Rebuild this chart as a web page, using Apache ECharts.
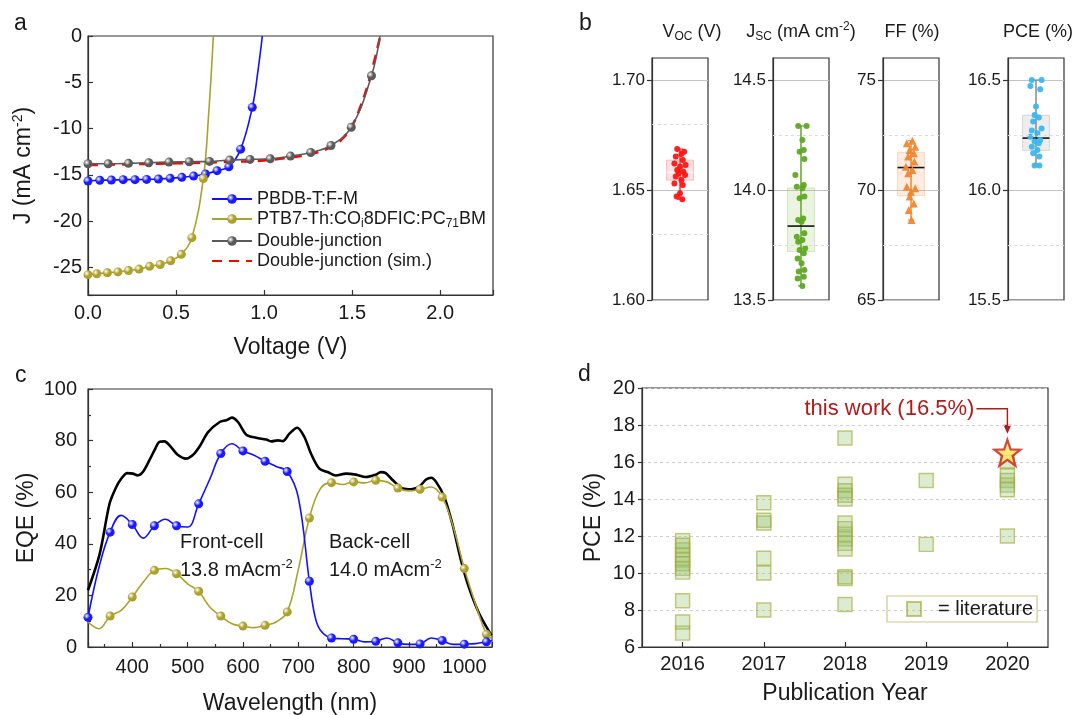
<!DOCTYPE html>
<html>
<head>
<meta charset="utf-8">
<script src="https://cdn.jsdelivr.net/npm/echarts@6/dist/echarts.min.js"></script>
<style>
html, body { margin: 0; padding: 0; background: #fff; }
#main { width: 1077px; height: 715px; }
</style>
</head>
<body>
<div id="main"></div>
<script>
// ---------------- panel a : J-V curves ----------------
// marker points
var blueV = [0, 0.067, 0.133, 0.2, 0.267, 0.333, 0.4, 0.467, 0.533, 0.6, 0.667, 0.733, 0.8, 0.867, 0.933];
var blueJ = [-15.67, -15.6, -15.57, -15.53, -15.53, -15.5, -15.46, -15.39, -15.28, -15.14, -14.92, -14.56, -14.13, -12.23, -7.71];
// extra line points (no marker)
var blueLineV = [0.965, 0.99];
var blueLineJ = [-3.8, 0];

var oliveV = [0, 0.05, 0.11, 0.17, 0.23, 0.29, 0.35, 0.41, 0.47, 0.53, 0.59, 0.655];
var oliveJ = [-25.8, -25.7, -25.6, -25.5, -25.35, -25.2, -24.9, -24.7, -24.3, -23.6, -21.8, -15.4];
var oliveLineV = [0.685, 0.712];
var oliveLineJ = [-8.5, 0];

var djV = [0, 0.115, 0.23, 0.345, 0.46, 0.575, 0.69, 0.805, 0.92, 1.035, 1.15, 1.265, 1.38, 1.495, 1.61];
var djJ = [-13.81, -13.81, -13.77, -13.7, -13.63, -13.59, -13.56, -13.41, -13.34, -13.27, -12.98, -12.59, -11.84, -9.86, -4.3];
var djLineV = [1.658];
var djLineJ = [0];

var simV = [0, 0.2, 0.4, 0.6, 0.8, 1.0, 1.2, 1.3, 1.4, 1.45, 1.5, 1.55, 1.6, 1.66];
var simJ = [-13.95, -13.88, -13.8, -13.72, -13.6, -13.45, -13.0, -12.6, -11.8, -11.0, -9.7, -7.5, -4.6, 0];

// ---------------- panel b : statistics ----------------
var vocVals = [1.6686, 1.6674, 1.6664, 1.6652, 1.6636, 1.6621, 1.6614, 1.6606, 1.6591, 1.6583, 1.6576, 1.6568, 1.6561, 1.6545, 1.653, 1.6523, 1.6485, 1.647, 1.6458];
var vocDx = [-0.1, 0.15, 0.05, -0.15, 0.1, -0.2, 0.2, 0, -0.1, 0.12, -0.05, 0.18, -0.15, 0.05, -0.2, 0.1, 0, -0.12, 0.08];
var vocBox = [1.6458, 1.6545, 1.658, 1.6636, 1.6686];

var jscVals = [14.291, 14.291, 14.227, 14.182, 14.174, 14.141, 14.068, 14.023, 14.015, 14.008, 13.97, 13.962, 13.871, 13.864, 13.856, 13.803, 13.788, 13.773, 13.765, 13.735, 13.727, 13.712, 13.689, 13.667, 13.636, 13.629, 13.606, 13.598, 13.564];
var jscDx = [-0.1, 0.2, 0.05, 0.1, -0.05, 0.12, -0.2, 0.1, -0.15, 0.05, 0.12, -0.05, 0.08, -0.1, 0.02, 0.12, -0.15, 0.05, -0.1, 0.15, -0.05, 0.1, -0.12, 0.02, 0.12, -0.08, 0.1, -0.12, 0.05];
var jscBox = [13.564, 13.72, 13.836, 14.009, 14.291];

var ffVals = [72.24, 72.12, 71.97, 71.82, 71.67, 71.52, 71.29, 71.06, 70.91, 70.76, 70.15, 70.08, 69.92, 69.7, 69.39, 69.09, 68.64];
var ffDx = [0.05, -0.15, 0.15, -0.05, 0.1, -0.1, 0.12, -0.18, 0.05, -0.1, -0.15, 0.15, 0, -0.05, 0.1, -0.08, 0.02];
var ffBox = [68.64, 69.74, 71.02, 71.71, 72.24];

var pceVals = [16.5, 16.5, 16.473, 16.458, 16.379, 16.341, 16.33, 16.311, 16.28, 16.27, 16.258, 16.242, 16.227, 16.22, 16.212, 16.197, 16.182, 16.167, 16.152, 16.111, 16.111];
var pceDx = [-0.15, 0.2, -0.2, 0.15, 0, -0.05, 0.1, -0.1, 0.2, -0.15, 0.05, -0.2, 0.15, -0.05, 0.1, -0.15, 0.05, -0.1, 0.12, -0.05, 0.12];
var pceBox = [16.111, 16.18, 16.236, 16.34, 16.5];

// ---------------- panel c : EQE ----------------
var frontWl = [320, 360, 400, 440, 480, 520, 560, 600, 640, 680, 720, 760, 800, 840, 880, 920, 960, 1000, 1040];
var frontEqe = [11.5, 44.5, 47.5, 47, 47, 55.5, 75, 76, 72, 68, 25.5, 3.5, 3, 2.2, 1.6, 1.2, 2.5, 1.1, 2];
var frontLineWl = [340, 380, 420, 460, 500, 540, 580, 620, 660, 700, 730, 740, 780, 820, 860, 900, 940, 980, 1020, 1050];
var frontLineEqe = [31, 51, 42.2, 49.5, 46.5, 65, 78.8, 74.3, 70, 58, 12, 6.5, 3.2, 2, 3.5, 1, 3.5, 1, 1.3, 2.5];

var backWl = [360, 400, 440, 480, 520, 560, 600, 640, 680, 720, 760, 800, 840, 880, 920, 960, 1000, 1040];
var backEqe = [12, 19.4, 29.7, 28.4, 21.6, 12, 8.1, 8.4, 13.6, 50, 63.7, 64, 64.6, 61.6, 61.1, 58.1, 30.4, 4.9];
var backLineWl = [320, 340, 380, 420, 460, 500, 540, 580, 620, 660, 700, 740, 780, 820, 860, 900, 940, 980, 1020, 1050];
var backLineEqe = [9.7, 7.1, 14.2, 25.2, 30.4, 24.5, 15.5, 9, 7.5, 9.7, 30, 61.4, 63, 63.6, 64, 60.5, 62, 46.5, 16.8, 3.2];

var sumWl = [320, 341, 359, 371, 380, 391, 401, 410, 419, 431, 440, 449, 458, 470, 482, 497, 509, 521, 537, 558, 570, 580, 591, 606, 624, 642, 651, 663, 672, 684, 698, 711, 723, 738, 753, 768, 786, 804, 822, 840, 849, 858, 871, 889, 904, 919, 931, 940, 949, 964, 979, 994, 1009, 1027, 1049];
var sumEqe = [22, 36, 55.6, 62, 65.2, 67.4, 67.2, 66.5, 67.8, 72.4, 76.2, 79.5, 79.7, 77.5, 74.5, 73, 74.3, 77.5, 83.3, 87.2, 87.9, 88.9, 87.2, 82.3, 81.1, 80.4, 79.7, 80.1, 79.8, 82.7, 85, 81.4, 74.9, 69.1, 67.8, 66.5, 67.2, 66.8, 65.9, 66.8, 67.8, 67.4, 64.6, 61.4, 61.1, 62.3, 64.9, 65.6, 64, 58.1, 47.2, 33.6, 22.6, 12.9, 4.5];
var wlMinorTicks = [350, 450, 550, 650, 750, 850, 950];

// ---------------- panel d : literature ----------------
var years = ['2016', '2017', '2018', '2019', '2020'];
var pce2016 = [11.75, 11.5, 11.25, 10.95, 10.7, 10.5, 10.25, 10.05, 8.5, 7.35, 6.75];
var pce2017 = [13.8, 12.85, 12.7, 10.8, 10.0, 8.0];
var pce2018 = [17.3, 14.8, 14.45, 14.2, 14.0, 12.7, 12.4, 12.1, 11.85, 11.6, 11.3, 9.8, 9.7, 8.3];
var pce2019 = [15.0, 11.55];
var pce2020 = [16.0, 15.3, 15.0, 14.75, 14.5, 12.0];
var thisWork = 16.5;

var FONT = "'Liberation Sans', Arial, sans-serif";
var INK = '#1a1a1a';

function ball(c) {
    return {
        type: 'radial', x: 0.35, y: 0.35, r: 0.7,
        colorStops: [{ offset: 0, color: '#ffffff' }, { offset: 0.5, color: c }, { offset: 1, color: c }]
    };
}

// markers plus extra line-only points, sorted along x
function curve(mx, my, lx, ly) {
    var pts = [];
    mx.forEach(function (x, i) { pts.push({ value: [x, my[i]] }); });
    lx.forEach(function (x, i) { pts.push({ value: [x, ly[i]], symbol: 'none' }); });
    pts.sort(function (a, b) { return a.value[0] - b.value[0]; });
    return pts;
}

function onStep(step, digits) {
    return function (v) {
        var r = v / step;
        if (Math.abs(r - Math.round(r)) > 1e-6) return '';
        return digits == null ? String(v) : v.toFixed(digits);
    };
}

function grid(l, t, w, h) {
    return { left: l, top: t, width: w, height: h, show: true, borderColor: '#333', borderWidth: 1.2, outerBoundsMode: 'none' };
}

var lineAxis = { show: true, onZero: false, lineStyle: { color: '#333', width: 1.2 } };
var tickIn = { show: true, inside: true, length: 5, lineStyle: { color: '#333', width: 1.2 } };
var label20 = { color: INK, fontSize: 20, fontFamily: FONT };
var name23 = { color: INK, fontSize: 23, fontFamily: FONT, lineHeight: 26, rich: { p: { fontSize: 14, fontFamily: FONT, color: INK, lineHeight: 12, verticalAlign: 'top' } } };

// panel b helpers
var bLefts = [652, 773, 883, 1008];
var bMin = [1.60, 13.5, 65, 15.5];
var bMax = [1.71, 14.6, 76, 16.6];
var bStep = [0.05, 0.5, 5, 0.5];
var bDigits = [2, 1, 0, 1];
var bVals = [vocVals, jscVals, ffVals, pceVals];
var bDx = [vocDx, jscDx, ffDx, pceDx];
var bBox = [vocBox, jscBox, ffBox, pceBox];
var bPoint = ['#ff1414', '#5ea823', '#f08630', '#3cb6f0'];
var bSymbol = ['circle', 'circle', 'triangle', 'circle'];
var bFill = ['rgba(255,90,90,0.18)', 'rgba(130,185,70,0.16)', 'rgba(245,150,80,0.18)', 'rgba(140,140,140,0.16)'];
var bEdge = ['rgba(255,90,90,0.35)', 'rgba(130,185,70,0.3)', 'rgba(245,150,80,0.3)', 'rgba(140,140,140,0.3)'];
var bWhisker = ['#ff3030', '#5ea823', '#f08630', '#8a8a8a'];
var bMedian = ['rgba(255,255,255,0.8)', '#111', '#111', '#111'];

function boxRenderer(k) {
    return function (params, api) {
        var lo = api.value(0), q1 = api.value(1), md = api.value(2), q3 = api.value(3), hi = api.value(4);
        var tl = api.coord([-0.48, q3]);
        var br = api.coord([0.48, q1]);
        var m1 = api.coord([-0.48, md]);
        var m2 = api.coord([0.48, md]);
        var w1 = api.coord([0, hi]);
        var w2 = api.coord([0, lo]);
        var cw = 3;
        return {
            type: 'group',
            children: [
                { type: 'rect', shape: { x: tl[0], y: tl[1], width: br[0] - tl[0], height: br[1] - tl[1] }, style: { fill: bFill[k], stroke: bEdge[k], lineWidth: 1 } },
                { type: 'line', shape: { x1: w1[0], y1: w1[1], x2: w2[0], y2: w2[1] }, style: { stroke: bWhisker[k], lineWidth: 1.5 } },
                { type: 'line', shape: { x1: w1[0] - cw, y1: w1[1], x2: w1[0] + cw, y2: w1[1] }, style: { stroke: bWhisker[k], lineWidth: 1.2 } },
                { type: 'line', shape: { x1: w2[0] - cw, y1: w2[1], x2: w2[0] + cw, y2: w2[1] }, style: { stroke: bWhisker[k], lineWidth: 1.2 } },
                { type: 'line', shape: { x1: m1[0], y1: m1[1], x2: m2[0], y2: m2[1] }, style: { stroke: bMedian[k], lineWidth: 1.6 } }
            ]
        };
    };
}

var grids = [grid(88, 36, 405, 259)];
var xAxes = [{
    gridIndex: 0, type: 'value', min: 0, max: 2.3, interval: 0.5,
    axisLine: lineAxis, axisTick: tickIn, splitLine: { show: false },
    axisLabel: Object.assign({ margin: 8, formatter: onStep(0.5, 1) }, label20),
    name: 'Voltage (V)', nameLocation: 'middle', nameGap: 40, nameTextStyle: name23
}];
var yAxes = [{
    gridIndex: 0, type: 'value', min: -28, max: 0,
    axisLine: lineAxis, axisTick: tickIn, splitLine: { show: false },
    axisLabel: Object.assign({ margin: 6, formatter: onStep(5) }, label20),
    name: 'J (mA cm{p|-2})', nameLocation: 'middle', nameGap: 51, nameTextStyle: name23
}];
var series = [
    {
        name: 'PBDB-T:F-M', type: 'line', xAxisIndex: 0, yAxisIndex: 0, smooth: 0.4, showAllSymbol: true,
        symbol: 'circle', symbolSize: 9, data: curve(blueV, blueJ, blueLineV, blueLineJ),
        lineStyle: { color: '#1010ff', width: 1.6 }, itemStyle: { color: ball('#1a1aff') }, z: 3
    },
    {
        name: 'PTB7-Th:COi8DFIC:PC71BM', type: 'line', xAxisIndex: 0, yAxisIndex: 0, smooth: 0.4, showAllSymbol: true,
        symbol: 'circle', symbolSize: 9, data: curve(oliveV, oliveJ, oliveLineV, oliveLineJ),
        lineStyle: { color: '#aca12a', width: 1.6 }, itemStyle: { color: ball('#aca12a') }, z: 3
    },
    {
        name: 'Double-junction', type: 'line', xAxisIndex: 0, yAxisIndex: 0, smooth: 0.4, showAllSymbol: true,
        symbol: 'circle', symbolSize: 9, data: curve(djV, djJ, djLineV, djLineJ),
        lineStyle: { color: '#5a5a5a', width: 1.6 }, itemStyle: { color: ball('#5a5a5a') }, z: 3
    },
    {
        name: 'Double-junction (sim.)', type: 'line', xAxisIndex: 0, yAxisIndex: 0, smooth: 0.4, symbol: 'none',
        data: simV.map(function (v, i) { return [v, simJ[i]]; }),
        lineStyle: { color: '#ff0000', width: 2.6, type: [10, 7] }, itemStyle: { color: '#ff0000' }, z: 2
    }
];

// panel b grids (grid 1..4, axes 1..4)
for (var k = 0; k < 4; k++) {
    var gi = k + 1;
    var majors = [bMin[k], bMin[k] + bStep[k], bMin[k] + 2 * bStep[k]];
    grids.push(grid(bLefts[k], 58, 56, 242));
    xAxes.push({ gridIndex: gi, type: 'value', min: -1, max: 1, show: false });
    yAxes.push({
        gridIndex: gi, type: 'value', min: bMin[k], max: bMax[k], interval: bStep[k],
        axisLine: lineAxis,
        axisTick: { show: true, inside: false, length: 5, customValues: majors, lineStyle: { color: '#333', width: 1.2 } },
        splitLine: { show: true, lineStyle: { color: '#c4c4c4', width: 1.2 } },
        axisLabel: { margin: 7, color: INK, fontSize: 17, fontFamily: FONT, formatter: onStep(bStep[k], bDigits[k]) }
    });
    series.push({
        type: 'custom', xAxisIndex: gi, yAxisIndex: gi, renderItem: boxRenderer(k),
        data: [bBox[k]], z: 2, silent: true,
        markLine: {
            silent: true, symbol: 'none', label: { show: false },
            lineStyle: { color: '#dcdcdc', type: [3, 3], width: 1 },
            data: [{ yAxis: bMin[k] + bStep[k] / 2 }, { yAxis: bMin[k] + bStep[k] * 1.5 }]
        }
    });
    series.push({
        type: 'scatter', xAxisIndex: gi, yAxisIndex: gi, symbol: bSymbol[k], symbolSize: bSymbol[k] === 'triangle' ? 8 : 6,
        data: bVals[k].map(function (v, i) { return [bDx[k][i], v]; }),
        itemStyle: { color: bPoint[k], opacity: 0.95 }, z: 3
    });
}

// panel c (grid 5, x axes 5 and 6, y axis 5)
grids.push(grid(88, 389, 404, 258));
xAxes.push({
    gridIndex: 5, type: 'value', min: 320, max: 1050, splitNumber: 7,
    axisLine: lineAxis, axisTick: tickIn, splitLine: { show: false },
    axisLabel: Object.assign({ margin: 10, formatter: onStep(100) }, label20),
    name: 'Wavelength (nm)', nameLocation: 'middle', nameGap: 44, nameTextStyle: name23
});
xAxes.push({
    gridIndex: 5, type: 'value', min: 320, max: 1050, position: 'bottom',
    axisLine: { show: false, onZero: false }, splitLine: { show: false }, axisLabel: { show: false },
    axisTick: { show: true, inside: true, length: 3, customValues: wlMinorTicks, lineStyle: { color: '#333', width: 1.2 } }
});
yAxes.push({
    gridIndex: 5, type: 'value', min: 0, max: 100, interval: 20,
    axisLine: lineAxis, axisTick: tickIn, splitLine: { show: false },
    minorTick: { show: true, splitNumber: 2, length: 3, lineStyle: { color: '#333', width: 1.2 } },
    axisLabel: Object.assign({ margin: 11 }, label20),
    name: 'EQE (%)', nameLocation: 'middle', nameGap: 46, nameTextStyle: name23
});
series.push({
    name: 'EQE sum', type: 'line', xAxisIndex: 5, yAxisIndex: 5, smooth: 0.3, symbol: 'none',
    data: sumWl.map(function (w, i) { return [w, sumEqe[i]]; }),
    lineStyle: { color: '#000', width: 2.6 }, z: 2
});
series.push({
    name: 'EQE back', type: 'line', xAxisIndex: 5, yAxisIndex: 5, smooth: 0.4, showAllSymbol: true,
    symbol: 'circle', symbolSize: 9, data: curve(backWl, backEqe, backLineWl, backLineEqe),
    lineStyle: { color: '#aca12a', width: 1.6 }, itemStyle: { color: ball('#aca12a') }, z: 3
});
series.push({
    name: 'EQE front', type: 'line', xAxisIndex: 5, yAxisIndex: 5, smooth: 0.4, showAllSymbol: true,
    symbol: 'circle', symbolSize: 9, data: curve(frontWl, frontEqe, frontLineWl, frontLineEqe),
    lineStyle: { color: '#1010ff', width: 1.6 }, itemStyle: { color: ball('#1a1aff') }, z: 4
});

// panel d (grid 6, x axis 7, y axis 6)
grids.push(grid(642, 388, 406, 259));
xAxes.push({
    gridIndex: 6, type: 'category', data: years, boundaryGap: true,
    axisLine: lineAxis, axisTick: Object.assign({ alignWithLabel: true }, tickIn), splitLine: { show: false },
    axisLabel: Object.assign({ margin: 7 }, label20),
    name: 'Publication Year', nameLocation: 'middle', nameGap: 34, nameTextStyle: name23
});
yAxes.push({
    gridIndex: 6, type: 'value', min: 6, max: 20, interval: 2,
    axisLine: lineAxis,
    axisTick: { show: true, inside: false, length: 4, lineStyle: { color: '#333', width: 1.2 } },
    splitLine: { show: true, lineStyle: { color: '#cfcfcf', type: [3, 3], width: 1 } },
    axisLabel: Object.assign({ margin: 7 }, label20),
    name: 'PCE (%)', nameLocation: 'middle', nameGap: 35, nameTextStyle: name23
});
var litData = [];
[pce2016, pce2017, pce2018, pce2019, pce2020].forEach(function (arr, i) {
    arr.forEach(function (v) { litData.push([years[i], v]); });
});
series.push({
    name: '= literature', type: 'scatter', xAxisIndex: 7, yAxisIndex: 6, symbol: 'rect', symbolSize: 14,
    data: litData,
    itemStyle: { color: 'rgba(150,200,120,0.42)', borderColor: 'rgba(165,170,55,0.8)', borderWidth: 1.4 }, z: 2
});
series.push({
    name: 'this work', type: 'scatter', xAxisIndex: 7, yAxisIndex: 6,
    symbol: 'path://M0,-10 L2.35,-3.24 L9.51,-3.09 L3.8,1.24 L5.88,8.09 L0,4 L-5.88,8.09 L-3.8,1.24 L-9.51,-3.09 L-2.35,-3.24 Z',
    symbolSize: 26, data: [[years[4], thisWork]],
    itemStyle: { color: '#ffe45c', borderColor: '#c81e1e', borderWidth: 2.2 }, z: 5
});

function legendFormat(name) {
    if (name === 'PTB7-Th:COi8DFIC:PC71BM') return '{n|PTB7-Th:CO}{s|i}{n|8DFIC:PC}{s|71}{n|BM}';
    return '{n|' + name + '}';
}

var richTitle = {
    n: { fontSize: 18, fontFamily: FONT, fill: INK, lineHeight: 22 },
    s: { fontSize: 12, fontFamily: FONT, fill: INK, lineHeight: 10, verticalAlign: 'bottom' },
    p: { fontSize: 12, fontFamily: FONT, fill: INK, lineHeight: 10, verticalAlign: 'top' }
};
var richNote = {
    n: { fontSize: 20, fontFamily: FONT, fill: INK, lineHeight: 24 },
    p: { fontSize: 13, fontFamily: FONT, fill: INK, lineHeight: 10, verticalAlign: 'top' }
};

var graphics = [
    { id: 'la', type: 'text', x: 14, y: 12, style: { text: 'a', fontSize: 23, fontFamily: FONT, fill: INK } },
    { id: 'lb', type: 'text', x: 579, y: 12, style: { text: 'b', fontSize: 23, fontFamily: FONT, fill: INK } },
    { id: 'lc', type: 'text', x: 15, y: 364, style: { text: 'c', fontSize: 23, fontFamily: FONT, fill: INK } },
    { id: 'ld', type: 'text', x: 578, y: 363, style: { text: 'd', fontSize: 23, fontFamily: FONT, fill: INK } },
    { id: 'tb1', type: 'text', x: 692, y: 32, style: { text: '{n|V}{s|OC}{n| (V)}', align: 'center', verticalAlign: 'middle', rich: richTitle } },
    { id: 'tb2', type: 'text', x: 801, y: 32, style: { text: '{n|J}{s|SC}{n| (mA cm}{p|-2}{n|)}', align: 'center', verticalAlign: 'middle', rich: richTitle } },
    { id: 'tb3', type: 'text', x: 912, y: 32, style: { text: 'FF (%)', align: 'center', verticalAlign: 'middle', fontSize: 18, fontFamily: FONT, fill: INK } },
    { id: 'tb4', type: 'text', x: 1038, y: 32, style: { text: 'PCE (%)', align: 'center', verticalAlign: 'middle', fontSize: 18, fontFamily: FONT, fill: INK } },
    { id: 'fc1', type: 'text', x: 180, y: 542, style: { text: 'Front-cell', verticalAlign: 'middle', fontSize: 20, fontFamily: FONT, fill: INK } },
    { id: 'fc2', type: 'text', x: 180, y: 570, style: { text: '{n|13.8 mAcm}{p|-2}', verticalAlign: 'middle', rich: richNote } },
    { id: 'bc1', type: 'text', x: 329, y: 542, style: { text: 'Back-cell', verticalAlign: 'middle', fontSize: 20, fontFamily: FONT, fill: INK } },
    { id: 'bc2', type: 'text', x: 329, y: 570, style: { text: '{n|14.0 mAcm}{p|-2}', verticalAlign: 'middle', rich: richNote } }
];

var option = {
    animation: false,
    backgroundColor: '#fff',
    textStyle: { fontFamily: FONT },
    grid: grids,
    xAxis: xAxes,
    yAxis: yAxes,
    legend: [
        {
            left: 211, top: 190, orient: 'vertical', itemGap: 2, itemWidth: 40, itemHeight: 12,
            selectedMode: false, padding: 0,
            data: ['PBDB-T:F-M', 'PTB7-Th:COi8DFIC:PC71BM', 'Double-junction',
                { name: 'Double-junction (sim.)', itemStyle: { opacity: 0 } }],
            formatter: legendFormat,
            textStyle: {
                color: INK, fontSize: 18, fontFamily: FONT,
                rich: {
                    n: { fontSize: 18, fontFamily: FONT, color: INK, lineHeight: 22 },
                    s: { fontSize: 12, fontFamily: FONT, color: INK, lineHeight: 10, verticalAlign: 'bottom' }
                }
            }
        },
        {
            left: 887, top: 596, orient: 'horizontal', itemWidth: 14, itemHeight: 14, selectedMode: false,
            padding: [3, 4, 3, 19], borderColor: '#c9c98c', borderWidth: 1.2,
            data: [{ name: '= literature', icon: 'rect' }],
            textStyle: { color: INK, fontSize: 20, fontFamily: FONT, padding: [0, 0, 0, 12] }
        }
    ],
    graphic: graphics,
    series: series
};

var chart = echarts.init(document.getElementById('main'));
chart.setOption(option);

// annotation arrow for "this work", placed from the star's position
var star = chart.convertToPixel({ xAxisIndex: 7, yAxisIndex: 6 }, [years[4], thisWork]);
var ty = star[1] - 44;
var tipY = star[1] - 19;
chart.setOption({
    graphic: graphics.concat([
        { id: 'tw', type: 'text', x: star[0] - 33, y: ty, style: { text: 'this work (16.5%)', align: 'right', verticalAlign: 'middle', fontSize: 22, fontFamily: FONT, fill: '#b01c1c' } },
        { id: 'tw_line', type: 'polyline', shape: { points: [[star[0] - 31, ty], [star[0], ty], [star[0], tipY - 7]] }, style: { stroke: '#b01c1c', lineWidth: 1.4, fill: null } },
        { id: 'tw_head', type: 'polygon', shape: { points: [[star[0] - 4, tipY - 9], [star[0] + 4, tipY - 9], [star[0], tipY]] }, style: { fill: '#b01c1c' } }
    ])
});
</script>
</body>
</html>
